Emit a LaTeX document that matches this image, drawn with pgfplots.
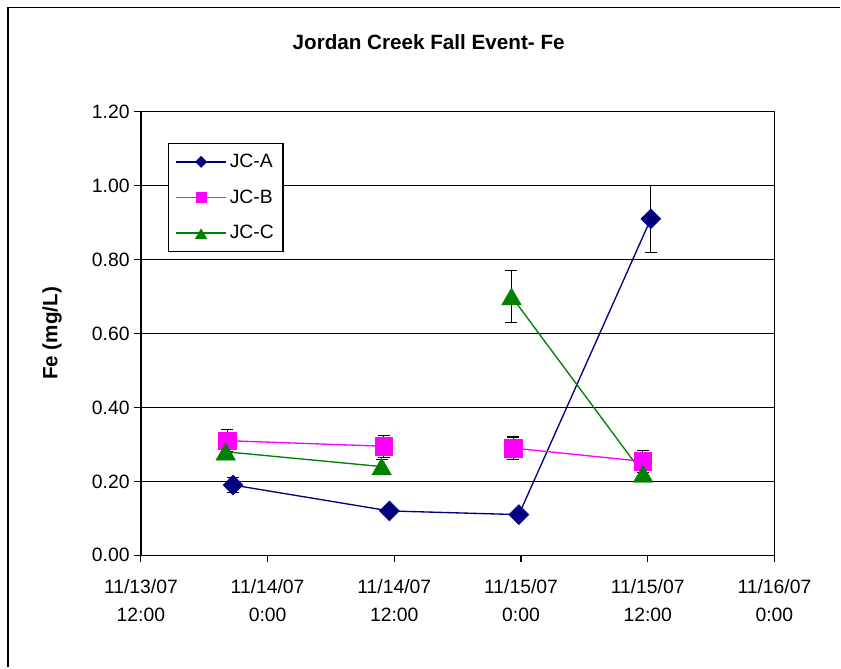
\documentclass[border=0pt]{standalone}
\usepackage{fontspec}
\setmainfont{Liberation Sans}
\usepackage{pgfplots}
\pgfplotsset{compat=1.18}
\definecolor{jcA}{RGB}{0,0,128}
\definecolor{jcB}{RGB}{255,0,255}
\definecolor{jcC}{RGB}{0,128,0}
\begin{document}
\begin{tikzpicture}
\path (-105.75pt,-84.2pt) rectangle (525pt,416.8pt);
\draw[line width=1pt] (-99.75pt,-84.2pt) -- (-99.75pt,411.3pt) -- (525pt,411.3pt);
\begin{axis}[
  scale only axis, width=475.5pt, height=333pt,
  xmin=0, xmax=60, ymin=0, ymax=1.2,
  unbounded coords=jump,
  xtick={0,12,24,36,48,60},
  xticklabels={{11/13/07\\12:00},{11/14/07\\0:00},{11/14/07\\12:00},{11/15/07\\0:00},{11/15/07\\12:00},{11/16/07\\0:00}},
  xticklabel style={align=center, font=\fontsize{14.5}{21}\selectfont, yshift=-9.5pt},
  ytick={0,0.2,0.4,0.6,0.8,1.0,1.2},
  yticklabel style={font=\fontsize{14.5}{17}\selectfont, /pgf/number format/.cd, fixed, fixed zerofill, precision=2},
  /pgf/number format/assume math mode=true,
  ymajorgrids, grid style={black, line width=0.9pt},
  axis line style={line width=1pt},
  tick style={black, line width=0.9pt},
  tick align=outside, major tick length=5pt,
  xtick pos=bottom, ytick pos=left,
  ylabel={Fe (mg/L)},
  every axis y label/.style={at={(-66.75pt,166.5pt)}, rotate=90, anchor=center, font=\fontsize{15.5}{18}\selectfont\bfseries},
  title={Jordan Creek Fall Event- Fe},
  every axis title/.style={at={(216pt,385.3pt)}, anchor=center, font=\fontsize{15.5}{18}\selectfont\bfseries},
  legend style={at={(0.0426,0.9295)}, anchor=north west, draw=black, line width=0.9pt,
    font=\fontsize{14.5}{17}\selectfont, row sep=11pt, inner xsep=5pt, inner ysep=6pt},
  legend cell align=left,
  legend image code/.code={\draw[mark repeat=2,mark phase=2] plot coordinates {(0pt,0pt)(19pt,0pt)(38pt,0pt)};},
  error bars/error bar style={black, line width=0.9pt},
  error bars/error mark options={black, rotate=90, mark size=4.5pt, line width=0.9pt},
]
\addplot+[jcA, line width=1pt, mark=square*, mark size=5.3pt,
  mark options={rotate=45, fill=jcA, draw=jcA, line width=0.3pt},
  error bars/.cd, y dir=both, y explicit,
  /pgfplots/legend image post style={mark size=3pt}]
  coordinates {(8.73,0.19) +- (0,0.02) (23.54,0.12) +- (0,0.01) (35.8,0.11) +- (0,0.01) (48.3,0.91) +- (0,0.09)};
\addlegendentry{JC-A}
\addplot+[jcB, line width=1pt, mark=square*, mark size=6.6pt,
  mark options={fill=jcB, draw=jcB, line width=0.3pt},
  error bars/.cd, y dir=both, y explicit,
  /pgfplots/legend image post style={mark size=3.9pt}]
  coordinates {(8.19,0.31) +- (0,0.03) (23.0,0.295) +- (0,0.03) (29,nan) (35.28,0.29) +- (0,0.03) (47.54,0.254) +- (0,0.03)};
\addlegendentry{JC-B}
\addplot+[jcC, line width=1pt, mark=triangle*, mark size=8.5pt,
  mark options={fill=jcC, draw=jcC, line width=0.3pt, yshift=-2pt},
  error bars/.cd, y dir=both, y explicit,
  /pgfplots/legend image post style={mark size=5pt}]
  coordinates {(8.03,0.28) +- (0,0.01) (22.8,0.24) +- (0,0.02) (29,nan) (35.1,0.70) +- (0,0.07) (47.57,0.22) +- (0,0.01)};
\addlegendentry{JC-C}
\end{axis}
\end{tikzpicture}
\end{document}
